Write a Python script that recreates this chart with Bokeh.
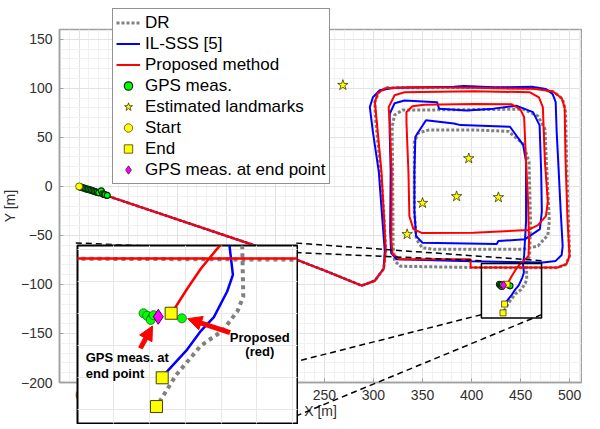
from bokeh.plotting import figure
from bokeh.layouts import column
from bokeh.models import (Legend, LegendItem, SingleIntervalTicker, Arrow,
                          NormalHead, Grid, Range1d)
from bokeh.core.properties import value
from bokeh.embed import file_html
from bokeh.resources import INLINE

FONT = "Liberation Sans"

# ---------------- data (metres) ----------------
dr_x = [0, 217.5, 251.0, 288.0, 301.4, 310.4, 312.5, 310.4, 307.4, 302.4, 301.4, 305.4, 313.5,
        402.1, 467.6, 484.7, 492.8, 495.8, 496.8, 498.8, 499.8, 495.8, 485.7,
        402.1, 327.6, 321.5, 320.0, 319.5, 319.0, 321.5, 329.6,
        402.1, 452.5, 467.6, 474.7, 476.7, 479.2, 477.7, 467.6, 452.5,
        361.8, 349.7, 343.7, 341.7, 341.7, 345.7, 356.8,
        402.1, 437.4, 452.5, 458.5, 460.1, 459.1,
        455.9, 456.2, 454.6, 450.4, 444.4, 437.5, 432.9, 432.0]
dr_y = [0, -73.2, -86.1, -101.2, -96.2, -84.0, -65.8, -25.4, 15.1, 65.6, 85.9, 96.0, 100.5,
        101.0, 100.0, 95.9, 88.9, 75.7, 25.2, -35.5, -70.9, -80.0, -83.1,
        -82.7, -81.5, -75.9, -60.8, 15.1, 60.6, 72.8, 77.8,
        78.3, 78.8, 71.7, 58.6, 15.1, -35.5, -49.7, -60.8, -64.2,
        -64.2, -62.6, -53.8, -25.4, 45.4, 54.5, 57.6,
        57.6, 56.1, 43.4, 25.2, -35.5, -70.9,
        -79.1, -94.5, -99.1, -105.3, -109.9, -119.1, -127.4, -129.0]

il_x = [0, 217.5, 251.0, 288.0, 301.4, 310.4, 311.5, 308.4, 305.4, 299.4, 296.3, 299.4, 306.4,
        321.5, 351.7, 382.0, 392.0, 422.3, 462.6, 475.7, 482.7, 485.7,
        486.7, 488.8, 490.8, 492.8, 491.8, 485.7, 472.6,
        399.1, 323.5, 318.0, 317.0, 317.5, 316.5, 316.5, 321.5, 331.6,
        364.8, 366.9, 395.1, 422.3, 445.4, 462.6, 469.3, 470.9, 471.6, 469.6,
        454.2, 427.3, 425.6, 350.0, 343.4, 341.7, 341.7, 342.7, 353.5,
        382.0, 388.7, 439.1, 452.5, 455.5, 455.5, 453.5,
        452.4, 453.3, 451.7, 448.0, 444.4, 440.3, 434.8, 433.6]
il_y = [0, -73.2, -86.1, -101.2, -96.2, -84.0, -65.8, -25.4, 15.1, 55.6, 80.8, 90.9, 98.0,
        100.5, 101.0, 101.5, 102.5, 101.0, 101.5, 99.3, 93.9, 85.9,
        55.6, 15.1, -25.4, -60.8, -69.9, -76.0, -77.7,
        -76.4, -74.2, -67.9, -45.6, 15.1, 55.6, 73.8, 84.8, 87.6,
        85.9, 79.1, 77.5, 79.3, 82.3, 75.7, 62.2, 15.1, -25.4, -43.6,
        -54.0, -55.7, -58.8, -57.5, -50.7, -25.4, 15.1, 50.6, 67.5,
        64.1, 62.5, 60.8, 42.3, 25.2, -35.5, -70.9,
        -79.1, -87.8, -93.0, -101.0, -105.3, -111.5, -118.2, -120.0]

pr_x = [0, 217.5, 251.0, 288.0, 301.4, 310.4, 312.5, 310.4, 308.1, 303.4, 301.4, 304.4, 311.5,
        341.7, 402.1, 462.6, 482.7, 491.8, 494.8, 495.8, 497.8, 499.8, 496.8, 487.8,
        399.1, 398.8, 326.6, 319.5, 318.2, 318.5, 316.5, 315.5, 321.5, 331.6,
        402.1, 459.5, 468.6, 472.6, 474.7, 477.7, 475.7, 467.6, 457.5,
        402.1, 349.7, 340.7, 336.6, 335.6, 333.6, 333.6, 339.7, 351.7,
        402.1, 440.4, 449.5, 453.5, 455.5, 457.5, 458.5, 458.0,
        452.5, 449.3, 444.4, 440.7, 436.4]
pr_y = [0, -73.2, -86.1, -101.2, -96.2, -84.0, -65.8, -25.4, 15.1, 65.6, 85.9, 95.0, 100.0,
        101.0, 100.5, 99.5, 97.0, 89.9, 80.8, 25.2, -35.5, -70.9, -79.0, -82.7,
        -82.7, -74.2, -74.2, -68.9, -55.7, 15.1, 65.6, 80.8, 92.9, 96.0,
        97.0, 96.0, 90.9, 80.8, 25.2, -15.3, -30.4, -39.5, -44.6,
        -47.3, -47.6, -43.6, -30.4, 15.1, 65.6, 75.7, 81.8, 83.3,
        84.1, 83.8, 78.8, 70.7, 25.2, -15.3, -55.7, -70.9,
        -76.5, -79.1, -85.8, -91.9, -99.5]

gps_x = [0.5, 2.0, 3.5, 5.0, 6.5, 8.0, 9.5, 11.0, 12.5, 14.0, 15.5, 17.0, 18.5, 20.0, 22.6,
         24.0, 25.5, 26.5, 28.7,
         428.4, 429.4, 430.7, 430.4, 431.2, 439.1]
gps_y = [-0.5, -0.8, -1.2, -1.8, -2.2, -2.8, -3.0, -3.6, -4.0, -4.6, -5.0, -5.6, -6.0, -6.6, -4.5,
         -7.6, -8.2, -8.5, -9.2,
         -99.8, -100.6, -101.2, -101.9, -100.4, -101.4]

lm_x = [268.8, 397.1, 384.7, 427.3, 350.0, 334.3]
lm_y = [103.3, 28.5, -10.2, -11.2, -17.0, -48.9]

start_x = [0.0]
start_y = [0.0]
end_x = [436.1, 433.6, 432.0]
end_y = [-99.8, -120.0, -129.0]
gps_end_x = [432.5]
gps_end_y = [-100.9]

legend_labels = ["DR", "IL-SSS [5]", "Proposed method", "GPS meas.", "Estimated landmarks",
                 "Start", "End", "GPS meas. at end point"]

# zoomed region and where its magnified copy sits (main-axes coordinates)
zoom_x = [410.0, 471.3]
zoom_y = [-134.3, -78.6]
inset_x = [-4.2, 217.5]
inset_y = [-240.4, -60.2]

# annotation arrows / texts in the inset (inset coordinates)
arr_x0 = [427.5, 452.5]
arr_y0 = [-110.8, -105.9]
arr_x1 = [430.9, 440.7]
arr_y1 = [-103.8, -101.5]
note1 = ["GPS meas. at", "end point"]
note1_x = [412.3, 412.3]
note1_y = [-113.8, -118.8]
note2 = ["Proposed", "(red)"]
note2_x = [460.8, 460.8]
note2_y = [-107.4, -111.9]

X_RANGE = (-20, 512)
Y_RANGE = (-200, 160)

AX = "#a0a0a0"
TXT = "#303030"
GRID = "#e2e2e2"
MINOR = "#f1f1f1"
DR_C, IL_C, PR_C = "#808080", "#0000ff", "#ff0000"
GREEN, YELLOW, MAG = "#00ff00", "#ffff00", "#ff00ff"

# shared styles (main axes and legend copies)
DR_S = dict(line_color=DR_C, line_width=3, line_dash="3 2")
IL_S = dict(line_color=IL_C, line_width=2)
PR_S = dict(line_color=PR_C, line_width=2)
GPS_S = dict(marker="circle", fill_color=GREEN, line_color="#0b2b0b", line_width=1.2)
LM_S = dict(marker="star", fill_color=YELLOW, line_color="#3a3a00", line_width=0.8)
ST_S = dict(marker="circle", fill_color=YELLOW, line_color="#505000", line_width=0.8)
EN_S = dict(marker="square", fill_color=YELLOW, line_color="#404000", line_width=0.8)
GE_S = dict(marker="diamond", fill_color=MAG, line_color="#500050", line_width=0.8)

# ---------------- main axes ----------------
p = figure(width=584, height=411, x_range=X_RANGE, y_range=Y_RANGE,
           output_backend="svg", toolbar_location=None,
           min_border_left=53, min_border_right=1, min_border_top=19, min_border_bottom=36)
p.xaxis.ticker = SingleIntervalTicker(interval=50, num_minor_ticks=5)
p.yaxis.ticker = SingleIntervalTicker(interval=50, num_minor_ticks=5)
p.xaxis.axis_label = "X [m]"
p.yaxis.axis_label = "Y [m]"
for ax in (p.xaxis, p.yaxis):
    ax.axis_label_text_font = FONT
    ax.axis_label_text_font_size = "14px"
    ax.axis_label_text_font_style = "normal"
    ax.axis_label_text_color = TXT
    ax.major_label_text_font = FONT
    ax.major_label_text_font_size = "14px"
    ax.major_label_text_color = TXT
    ax.axis_line_color = AX
    ax.axis_line_width = 1.5
    ax.major_tick_line_color = AX
    ax.major_tick_in = 4
    ax.major_tick_out = 0
    ax.minor_tick_line_color = None
    ax.major_label_standoff = 3
    ax.axis_label_standoff = 0
p.outline_line_color = AX
p.outline_line_width = 1.5
p.grid.grid_line_color = GRID
p.grid.minor_grid_line_color = MINOR

p.line(dr_x, dr_y, **DR_S)
p.line(il_x, il_y, **IL_S)
p.line(pr_x, pr_y, **PR_S)
p.quad(left=[zoom_x[0]], right=[zoom_x[1]], bottom=[zoom_y[0]], top=[zoom_y[1]],
       fill_color=None, line_color="black", line_width=1.5)
p.scatter(gps_x, gps_y, size=6, **GPS_S)
p.scatter(lm_x, lm_y, size=11, **LM_S)
p.scatter(start_x, start_y, size=7, **ST_S)
p.scatter(end_x, end_y, size=6, **EN_S)
p.scatter(gps_end_x, gps_end_y, size=9, **GE_S)

# ---------------- overlay for the dashed connectors ----------------
q = figure(width=584, height=419, x_range=X_RANGE, y_range=(-242.5, 160),
           output_backend="svg", toolbar_location=None,
           x_axis_location=None, y_axis_location=None,
           min_border_left=53, min_border_right=1, min_border_top=19, min_border_bottom=2,
           background_fill_color=None, border_fill_color=None, outline_line_color=None)
q.grid.visible = False
q.segment(x0=[zoom_x[0], zoom_x[1], zoom_x[0], zoom_x[1]],
          y0=[zoom_y[1], zoom_y[1], zoom_y[0], zoom_y[0]],
          x1=[inset_x[0], inset_x[1], inset_x[0], inset_x[1]],
          y1=[inset_y[1], inset_y[1], inset_y[0], inset_y[0]],
          line_color="black", line_width=1.5, line_dash="6 4")
q.styles = {"position": "absolute", "left": "0px", "top": "0px"}

# ---------------- inset (its own root, placed over the main axes) ----------------
ins = figure(width=222, height=180, x_range=(zoom_x[0], zoom_x[1]), y_range=(zoom_y[0], zoom_y[1]),
             output_backend="svg", toolbar_location=None,
             x_axis_location=None, y_axis_location=None, min_border=1,
             outline_line_color="black", outline_line_width=2)
ins.add_layout(Grid(dimension=0, ticker=SingleIntervalTicker(interval=10), grid_line_color="#e8e8e8"))
ins.add_layout(Grid(dimension=1, ticker=SingleIntervalTicker(interval=10), grid_line_color="#e8e8e8"))
ins.line(dr_x, dr_y, line_color=DR_C, line_width=4, line_dash="4 4")
ins.line(il_x, il_y, line_color=IL_C, line_width=2.5)
ins.line(pr_x, pr_y, line_color=PR_C, line_width=2.5)
ins.scatter(gps_x, gps_y, marker="circle", size=9, fill_color=GREEN, line_color="#1f5f1f", line_width=0.8)
ins.scatter(end_x, end_y, marker="square", size=12, fill_color=YELLOW, line_color="#404000", line_width=1)
ins.scatter(gps_end_x, gps_end_y, marker="diamond", size=15, fill_color=MAG, line_color="#500050", line_width=1)
for i in range(2):
    ins.add_layout(Arrow(end=NormalHead(size=14, fill_color=PR_C, line_color=PR_C),
                         x_start=arr_x0[i], y_start=arr_y0[i], x_end=arr_x1[i], y_end=arr_y1[i],
                         line_color=PR_C, line_width=5))
ins.text(x=note1_x, y=note1_y, text=note1, text_font=value(FONT), text_font_size="13px",
         text_font_style="bold", text_baseline="middle", text_align="left", text_color="black")
ins.text(x=note2_x, y=note2_y, text=note2, text_font=value(FONT), text_font_size="13px",
         text_font_style="bold", text_baseline="middle", text_align="center", text_color="black")
ins.styles = {"position": "absolute", "left": "75.7px", "top": "243.5px"}

# ---------------- legend (its own root, over the top-left of the axes) ----------------
# the series are drawn again here only so the legend has glyphs; the view range is
# chosen so none of them falls inside this small, transparent canvas
lg = figure(width=240, height=190, x_range=Range1d(1000, 1001), y_range=Range1d(1000, 1001),
            output_backend="svg", toolbar_location=None,
            x_axis_location=None, y_axis_location=None, min_border=0,
            background_fill_color=None, border_fill_color=None, outline_line_color=None)
lg.grid.visible = False
lr = [lg.line(dr_x, dr_y, **DR_S), lg.line(il_x, il_y, **IL_S), lg.line(pr_x, pr_y, **PR_S),
      lg.scatter(gps_x, gps_y, size=8, **GPS_S), lg.scatter(lm_x, lm_y, size=8, **LM_S),
      lg.scatter(start_x, start_y, size=8, **ST_S), lg.scatter(end_x, end_y, size=8, **EN_S),
      lg.scatter(gps_end_x, gps_end_y, size=8, **GE_S)]
legend = Legend(items=[LegendItem(label=t, renderers=[r]) for t, r in zip(legend_labels, lr)],
                location="top_left")
legend.label_text_font = FONT
legend.label_text_font_size = "17px"
legend.label_text_color = "black"
legend.border_line_color = "#262626"
legend.border_line_width = 1
legend.background_fill_color = "white"
legend.background_fill_alpha = 1.0
legend.padding = 3
legend.spacing = 0
legend.glyph_width = 24
legend.glyph_height = 21
legend.label_height = 21
legend.label_standoff = 5
legend.margin = 0
lg.add_layout(legend)
lg.styles = {"position": "absolute", "left": "112px", "top": "8px"}

layout = column(p, q, spacing=0)
layout.styles = {"position": "relative", "top": "9.5px", "left": "-2px"}
open("out.html", "w").write(file_html([layout, ins, lg], INLINE))
